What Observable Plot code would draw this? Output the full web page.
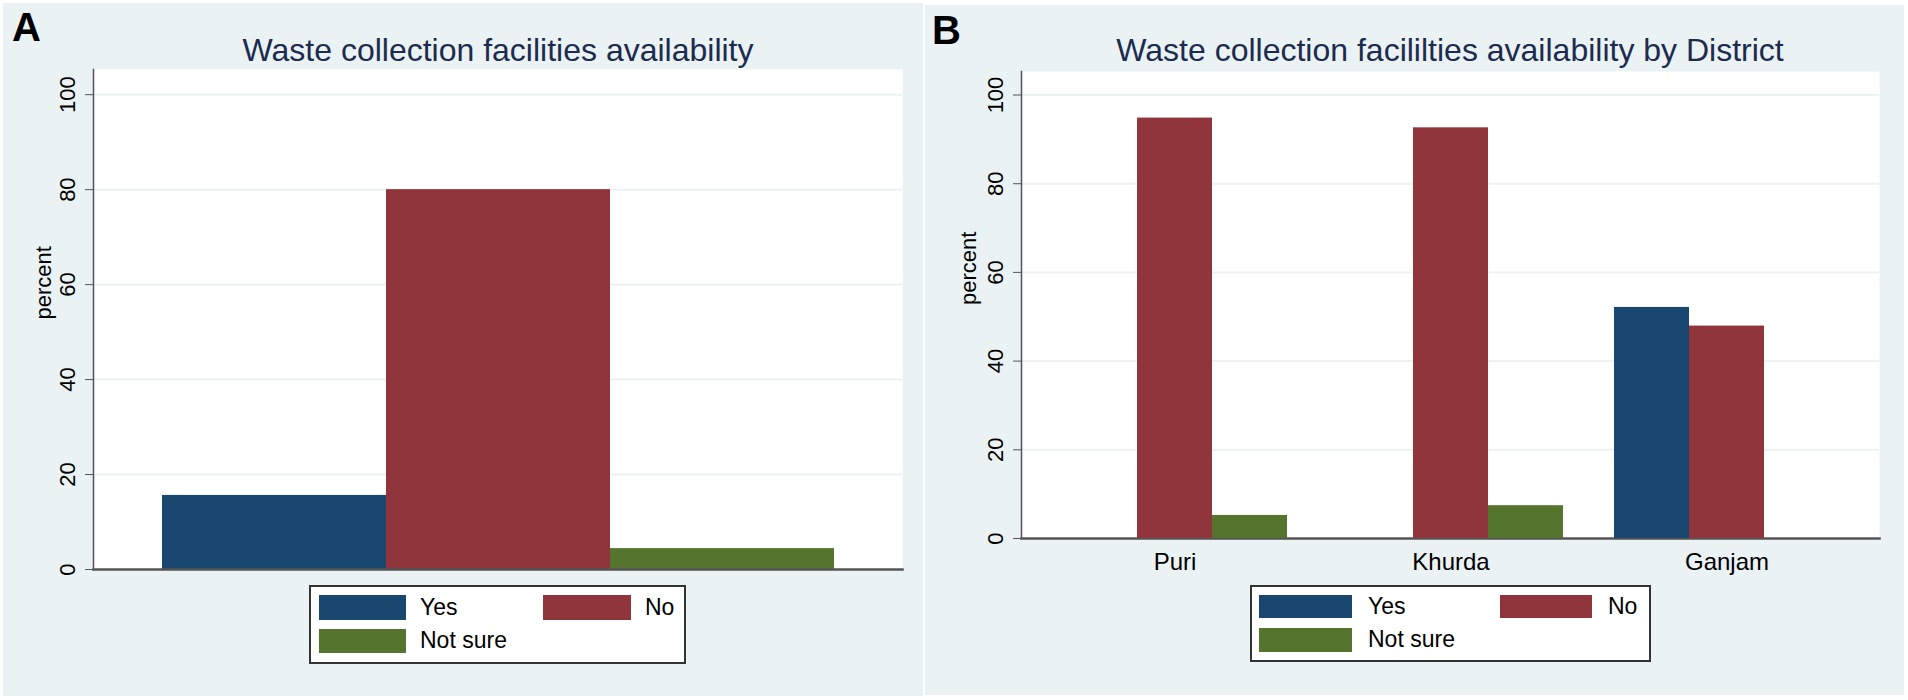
<!DOCTYPE html>
<html><head><meta charset="utf-8">
<script src="https://cdn.jsdelivr.net/npm/d3@7"></script>
<script src="https://cdn.jsdelivr.net/npm/@observablehq/plot@0.6"></script>
<style>
body{margin:0;background:#fff;width:1908px;height:700px;position:relative;overflow:hidden;font-family:"Liberation Sans",Arial,sans-serif;}
.abs{position:absolute;}
.panel{position:absolute;background:#eaf2f3;}
.lbl{position:absolute;font-weight:bold;font-size:40px;line-height:40px;color:#000;}
.title{position:absolute;font-size:32px;line-height:32px;color:#1d2b4e;white-space:nowrap;transform:translateX(-50%);}
.legend{position:absolute;background:#fff;border:2px solid #333;box-sizing:border-box;}
.sw{position:absolute;}
.lt{position:absolute;font-size:23px;line-height:23px;white-space:nowrap;color:#000;}
</style></head><body>
<div class="panel" style="left:3px;top:3px;width:920px;height:693px"></div>
<div class="panel" style="left:925px;top:5px;width:979px;height:690px"></div>
<div id="chartA" class="abs" style="left:0;top:0;width:923px"></div>
<div id="chartB0" class="abs" style="left:925px;top:0;width:979px"></div>
<div id="chartB1" class="abs" style="left:925px;top:0;width:979px"></div>
<div class="lbl" style="left:12px;top:7px">A</div>
<div class="lbl" style="left:932px;top:10px">B</div>
<div id="titleA" class="title" style="left:498px;top:34px"></div>
<div id="titleB" class="title" style="left:1450px;top:34px"></div>
<div id="legendA" class="legend" style="left:309px;top:585px;width:377px;height:79px"></div>
<div id="legendB" class="legend" style="left:1250px;top:585px;width:401px;height:77px"></div>
<script>
// ---- data ----
const responses = ["Yes", "No", "Not sure"];
const colors = ["#1a476f", "#90353b", "#55752f"];
const overallPct = [15.6, 80.0, 4.4];
const districts = ["Puri", "Khurda", "Ganjam"];
const puriPct = [0, 94.8, 5.2];
const khurdaPct = [0, 92.6, 7.4];
const ganjamPct = [52.1, 47.9, 0];
const yTicks = [0, 20, 40, 60, 80, 100];
const gridTicks = [20, 40, 60, 80, 100];
const titleA = "Waste collection facilities availability";
const titleB = "Waste collection facililties availability by District";
const yLabel = "percent";

const FONT = '"Liberation Sans", Arial, sans-serif';
const GRID = "#eaf2f3";
const AXIS = "#555";
const Y_DOMAIN = [0, 105.3];

const dataA = responses.map((r, i) => ({response: r, pct: overallPct[i]}));
const byDistrict = [puriPct, khurdaPct, ganjamPct];
const dataB = districts.flatMap((d, j) => responses.map((r, i) => ({district: d, response: r, pct: byDistrict[j][i]})));

const baseStyle = {background: "transparent", fontFamily: FONT, color: "#000", overflow: "visible"};

function backgroundMarks(labelDx) {
  return [
    Plot.frame({fill: "white", stroke: null}),
    Plot.ruleY(gridTicks, {stroke: GRID, strokeWidth: 2})
  ];
}
function axisMarks(labelDx) {
  return [
    Plot.axisY(yTicks, {tickSize: 8, tickPadding: 11, fontSize: 22, tickRotate: -90, textAnchor: "middle", lineAnchor: "bottom", stroke: AXIS, fill: "#000", label: null}),
    Plot.text([yLabel], {text: d => d, frameAnchor: "left", dx: labelDx, rotate: -90, fontSize: 22, lineAnchor: "middle", fill: "#000"}),
    Plot.frame({anchor: "left", stroke: AXIS, strokeWidth: 1.5}),
    Plot.frame({anchor: "bottom", stroke: AXIS, strokeWidth: 2.5})
  ];
}

// Panel A
const plotA = Plot.plot({
  width: 923, height: 600,
  marginLeft: 93, marginRight: 21, marginTop: 69, marginBottom: 31,
  style: baseStyle,
  x: {domain: responses, paddingInner: 0, paddingOuter: 0.3036, axis: null},
  y: {domain: Y_DOMAIN},
  color: {domain: responses, range: colors},
  marks: [
    ...backgroundMarks(),
    Plot.barY(dataA, {x: "response", y: "pct", fill: "response"}),
    ...axisMarks(-50)
  ]
});
document.getElementById("chartA").appendChild(plotA);

// Panel B: plot region, grid and y axis (full frame)
const marginsB = {width: 979, height: 600, marginLeft: 96, marginRight: 25, marginTop: 71, marginBottom: 62};
const plotB0 = Plot.plot({
  ...marginsB,
  style: baseStyle,
  y: {domain: Y_DOMAIN},
  marks: [
    ...backgroundMarks(),
    ...axisMarks(-53)
  ]
});
document.getElementById("chartB0").appendChild(plotB0);

// Panel B: grouped bars by district (faceted)
const plotB1 = Plot.plot({
  ...marginsB,
  style: baseStyle,
  fx: {domain: districts, paddingInner: 0.179, paddingOuter: 0.142, label: null},
  x: {domain: responses, paddingInner: 0, paddingOuter: 0, axis: null},
  y: {domain: Y_DOMAIN, axis: null},
  color: {domain: responses, range: colors},
  marks: [
    Plot.barY(dataB, {fx: "district", x: "response", y: "pct", fill: "response"}),
    Plot.axisFx({anchor: "bottom", tickSize: 0, tickPadding: 14, fontSize: 24, label: null, fill: "#000"})
  ]
});
document.getElementById("chartB1").appendChild(plotB1);

document.getElementById("titleA").textContent = titleA;
document.getElementById("titleB").textContent = titleB;

function buildLegend(id, layout) {
  const box = document.getElementById(id);
  responses.forEach((r, i) => {
    const L = layout[i];
    const sw = document.createElement("div");
    sw.className = "sw";
    sw.style.cssText = `left:${L.sx}px;top:${L.sy}px;width:${L.sw}px;height:${L.sh}px;background:${colors[i]}`;
    box.appendChild(sw);
    const t = document.createElement("div");
    t.className = "lt";
    t.textContent = r;
    t.style.cssText = `left:${L.tx}px;top:${L.sy + L.sh / 2 - 12}px`;
    box.appendChild(t);
  });
}
buildLegend("legendA", [
  {sx: 8, sy: 8, sw: 87, sh: 25, tx: 109},
  {sx: 232, sy: 8, sw: 88, sh: 25, tx: 334},
  {sx: 8, sy: 42, sw: 87, sh: 24, tx: 109}
]);
buildLegend("legendB", [
  {sx: 7, sy: 8, sw: 93, sh: 23, tx: 116},
  {sx: 248, sy: 8, sw: 92, sh: 23, tx: 356},
  {sx: 7, sy: 41, sw: 93, sh: 24, tx: 116}
]);
</script>
</body></html>
